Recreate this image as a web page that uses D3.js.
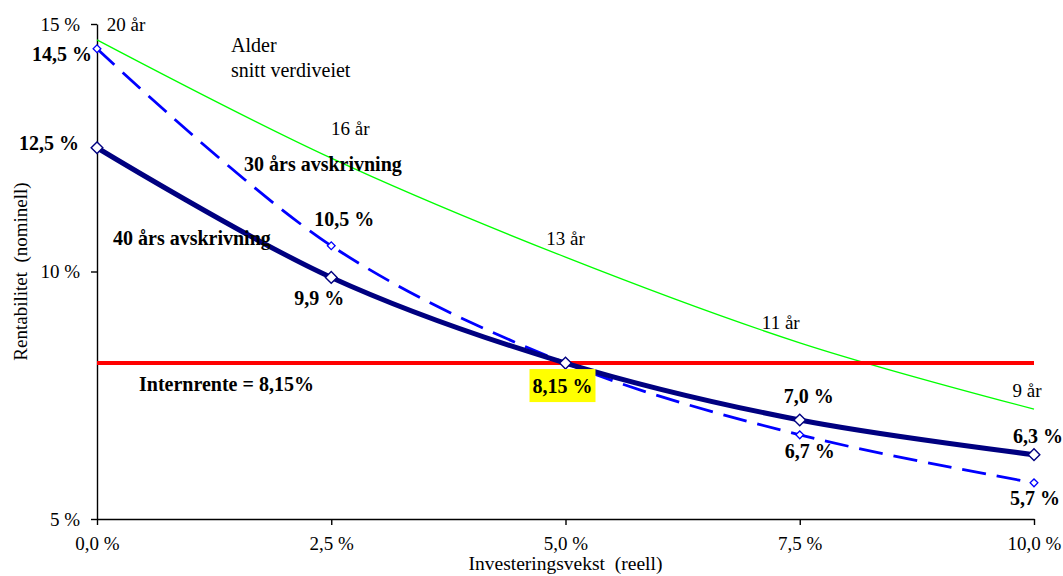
<!DOCTYPE html>
<html>
<head>
<meta charset="utf-8">
<script src="https://cdn.jsdelivr.net/npm/d3@7"></script>
<style>
  html, body { margin: 0; padding: 0; background: #fff; }
  svg { display: block; font-family: "Liberation Serif", "Times New Roman", serif; }
  text { white-space: pre; }
</style>
</head>
<body>
<svg id="chart" width="1063" height="576"></svg>
<script>
// ---- data ----
const growth = [0, 2.5, 5, 7.5, 10];                 // Investeringsvekst (reell), %
const dep40 = [12.5, 9.88, 8.15, 7.0, 6.3];           // 40 års avskrivning
const dep30 = [14.5, 10.52, 8.15, 6.7, 5.73];         // 30 års avskrivning
const dep40Labels = ["12,5 %", "9,9 %", "8,15 %", "7,0 %", "6,3 %"];
const dep30Labels = ["14,5 %", "10,5 %", "", "6,7 %", "5,7 %"];
const ageAvg = [14.68, 12.29, 10.29, 8.56, 7.22];     // Alder snitt verdiveiet (curve)
const ageLabels = ["20 år", "16 år", "13 år", "11 år", "9 år"];
const internalRate = 8.15;
const xTicks = [0, 2.5, 5, 7.5, 10];
const yTicks = [5, 10, 15];

// ---- label placement (styling) ----
const dep40Off = [[-18, 2, "end"], [-12, 28, "middle"], [-3, 30, "middle"], [9, -17, "middle"], [4, -12, "middle"]];
const dep30Off = [[-5, 12, "end"], [13, -20, "middle"], [0, 0, "middle"], [10, 23, "middle"], [1, 22, "middle"]];
const ageOff = [[29, -9], [19, -23], [0, -12], [-19, -14], [-7, -12]];

const svg = d3.select("#chart");
const x = d3.scaleLinear().domain([0, 10]).range([97, 1034]);
const y = d3.scaleLinear().domain([5, 15]).range([519, 24]);
const pct = v => d3.format(".1f")(v).replace(".", ",") + " %";

// axes
const yAxis = svg.append("g").attr("transform", `translate(${x(0)},0)`)
  .call(d3.axisLeft(y).tickValues(yTicks).tickSize(6).tickSizeOuter(0).tickPadding(11)
    .tickFormat(d => d + " %"));
const xAxis = svg.append("g").attr("transform", `translate(0,${y(5)})`)
  .call(d3.axisBottom(x).tickValues(xTicks).tickSize(6).tickSizeOuter(0).tickPadding(12)
    .tickFormat(pct));
[yAxis, xAxis].forEach(g => {
  g.selectAll("path,line").attr("stroke", "#000").attr("stroke-width", 1.4);
  g.selectAll("text").attr("font-family", "Liberation Serif").attr("font-size", 19).attr("fill", "#000");
});

// axis titles
svg.append("text").attr("x", x(5)).attr("y", 570).attr("text-anchor", "middle")
  .attr("font-size", 19.5).text("Investeringsvekst  (reell)");
svg.append("text").attr("transform", `translate(27,${y(10)}) rotate(-90)`).attr("text-anchor", "middle")
  .attr("font-size", 19).text("Rentabilitet  (nominell)");

const curve = d3.curveCatmullRom.alpha(0.5);
const line = d3.line().x(d => x(d[0])).y(d => y(d[1])).curve(curve);

// green age line
svg.append("path").datum(growth.map((g, i) => [g, ageAvg[i]]))
  .attr("d", line).attr("fill", "none").attr("stroke", "#00FF00").attr("stroke-width", 1.3);

// red internal rate line
svg.append("line").attr("x1", x(0)).attr("x2", x(10)).attr("y1", y(internalRate)).attr("y2", y(internalRate))
  .attr("stroke", "#FF0000").attr("stroke-width", 4);

// 30 års (dashed)
svg.append("path").datum(growth.map((g, i) => [g, dep30[i]]))
  .attr("d", line).attr("fill", "none").attr("stroke", "#0000FF").attr("stroke-width", 2.8)
  .attr("stroke-dasharray", "24,11");

// 40 års (solid navy)
svg.append("path").datum(growth.map((g, i) => [g, dep40[i]]))
  .attr("d", line).attr("fill", "none").attr("stroke", "#000080").attr("stroke-width", 5);

// markers
svg.selectAll(".m30").data(growth.map((g, i) => [g, dep30[i]])).enter().append("path")
  .attr("transform", d => `translate(${x(d[0])},${y(d[1])}) rotate(45)`)
  .attr("d", d3.symbol(d3.symbolSquare, 30)).attr("fill", "#fff").attr("stroke", "#0000FF").attr("stroke-width", 1.3);
svg.selectAll(".m40").data(growth.map((g, i) => [g, dep40[i]])).enter().append("path")
  .attr("transform", d => `translate(${x(d[0])},${y(d[1])}) rotate(45)`)
  .attr("d", d3.symbol(d3.symbolSquare, 68)).attr("fill", "#fff").attr("stroke", "#000080").attr("stroke-width", 1.4);

// yellow box behind 8,15 %
const midX = x(growth[2]) + dep40Off[2][0], midY = y(dep40[2]) + dep40Off[2][1];
svg.append("rect").attr("x", midX - 33).attr("y", midY - 24).attr("width", 66).attr("height", 33).attr("fill", "#FFFF00");

// value labels
function valueLabels(vals, labels, offs) {
  growth.forEach((g, i) => {
    if (!labels[i]) return;
    svg.append("text").attr("x", x(g) + offs[i][0]).attr("y", y(vals[i]) + offs[i][1])
      .attr("text-anchor", offs[i][2]).attr("font-size", 20).attr("font-weight", "bold").text(labels[i]);
  });
}
valueLabels(dep40, dep40Labels, dep40Off);
valueLabels(dep30, dep30Labels, dep30Off);

// age labels
growth.forEach((g, i) => {
  svg.append("text").attr("x", x(g) + ageOff[i][0]).attr("y", y(ageAvg[i]) + ageOff[i][1])
    .attr("text-anchor", "middle").attr("font-size", 19).text(ageLabels[i]);
});

// annotations
svg.append("text").attr("x", 231).attr("y", 52).attr("font-size", 20).text("Alder");
svg.append("text").attr("x", 231).attr("y", 77).attr("font-size", 20).text("snitt verdiveiet");
svg.append("text").attr("x", 244).attr("y", 171).attr("font-size", 20).attr("font-weight", "bold").text("30 års avskrivning");
svg.append("text").attr("x", 113).attr("y", 245).attr("font-size", 20).attr("font-weight", "bold").text("40 års avskrivning");
svg.append("text").attr("x", 139).attr("y", 391).attr("font-size", 20).attr("font-weight", "bold").text("Internrente = " + String(internalRate).replace(".", ",") + "%");
</script>
</body>
</html>
